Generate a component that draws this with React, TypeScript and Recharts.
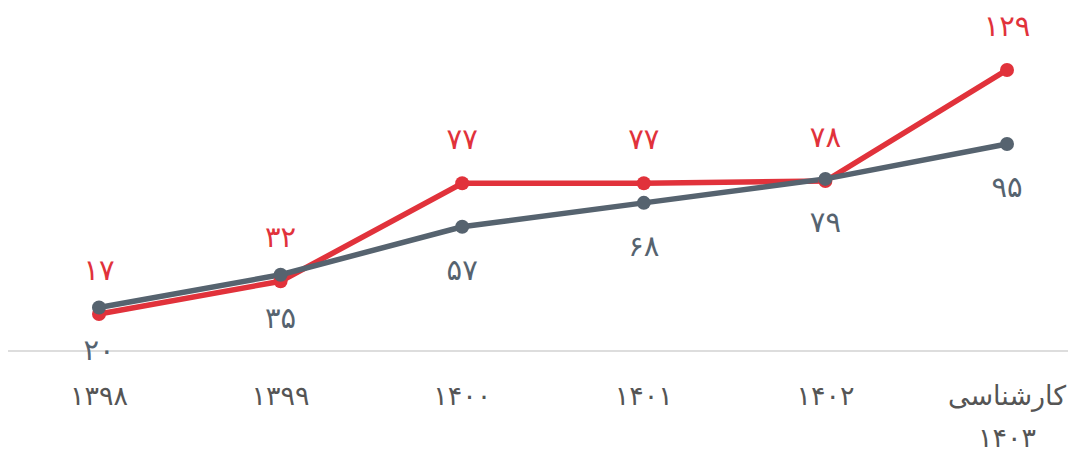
import { LineChart, Line, XAxis, YAxis, CartesianGrid, LabelList } from 'recharts'

const years = ['۱۳۹۸', '۱۳۹۹', '۱۴۰۰', '۱۴۰۱', '۱۴۰۲', 'کارشناسی\n۱۴۰۳']
const redValues = [17, 32, 77, 77, 78, 129]
const grayValues = [20, 35, 57, 68, 79, 95]

const RED = '#e1323b'
const GRAY = '#56636f'
const FONT = '"DejaVu Sans", sans-serif'

const data = years.map((name, i) => ({ name, red: redValues[i], gray: grayValues[i] }))

const toFa = (v: number | string) => String(v).replace(/\d/g, (d) => '۰۱۲۳۴۵۶۷۸۹'[Number(d)])

function YearTick({ x, y, payload }: any) {
  const lines = String(payload.value).split('\n')
  return (
    <text x={x} y={y} textAnchor="middle" fill="#555" fontSize={27} fontFamily={FONT}>
      {lines.map((l, i) => (
        <tspan key={i} x={x} dy={i === 0 ? 46 : 42}>
          {l}
        </tspan>
      ))}
    </text>
  )
}

function makeLabel(color: string, above: boolean) {
  return function ValueLabel({ x, y, value }: any) {
    return (
      <text
        x={x}
        y={above ? y - 42 : y + 45}
        textAnchor="middle"
        dominantBaseline="middle"
        fill={color}
        fontSize={29}
        fontFamily={FONT}
      >
        {toFa(value)}
      </text>
    )
  }
}

export default function App() {
  return (
    <div style={{ width: 1068, height: 454, background: '#fff' }}>
      <LineChart width={1068} height={454} data={data} margin={{ top: 38, right: 0, bottom: 0, left: 0 }}>
        <CartesianGrid vertical={false} horizontal={false} />
        <XAxis
          dataKey="name"
          stroke="#dddddd"
          strokeWidth={2}
          tickLine={false}
          tick={<YearTick />}
          interval={0}
          padding={{ left: 91, right: 69 }}
          height={111}
        />
        <YAxis hide domain={[0, 140]} />
        <Line
          dataKey="red"
          stroke={RED}
          strokeWidth={5.5}
          dot={{ r: 7, fill: RED, stroke: RED, strokeWidth: 0 }}
          activeDot={false}
          isAnimationActive={false}
        >
          <LabelList dataKey="red" content={makeLabel(RED, true)} />
        </Line>
        <Line
          dataKey="gray"
          stroke={GRAY}
          strokeWidth={5.5}
          dot={{ r: 7, fill: GRAY, stroke: GRAY, strokeWidth: 0 }}
          activeDot={false}
          isAnimationActive={false}
        >
          <LabelList dataKey="gray" content={makeLabel(GRAY, false)} />
        </Line>
      </LineChart>
    </div>
  )
}
